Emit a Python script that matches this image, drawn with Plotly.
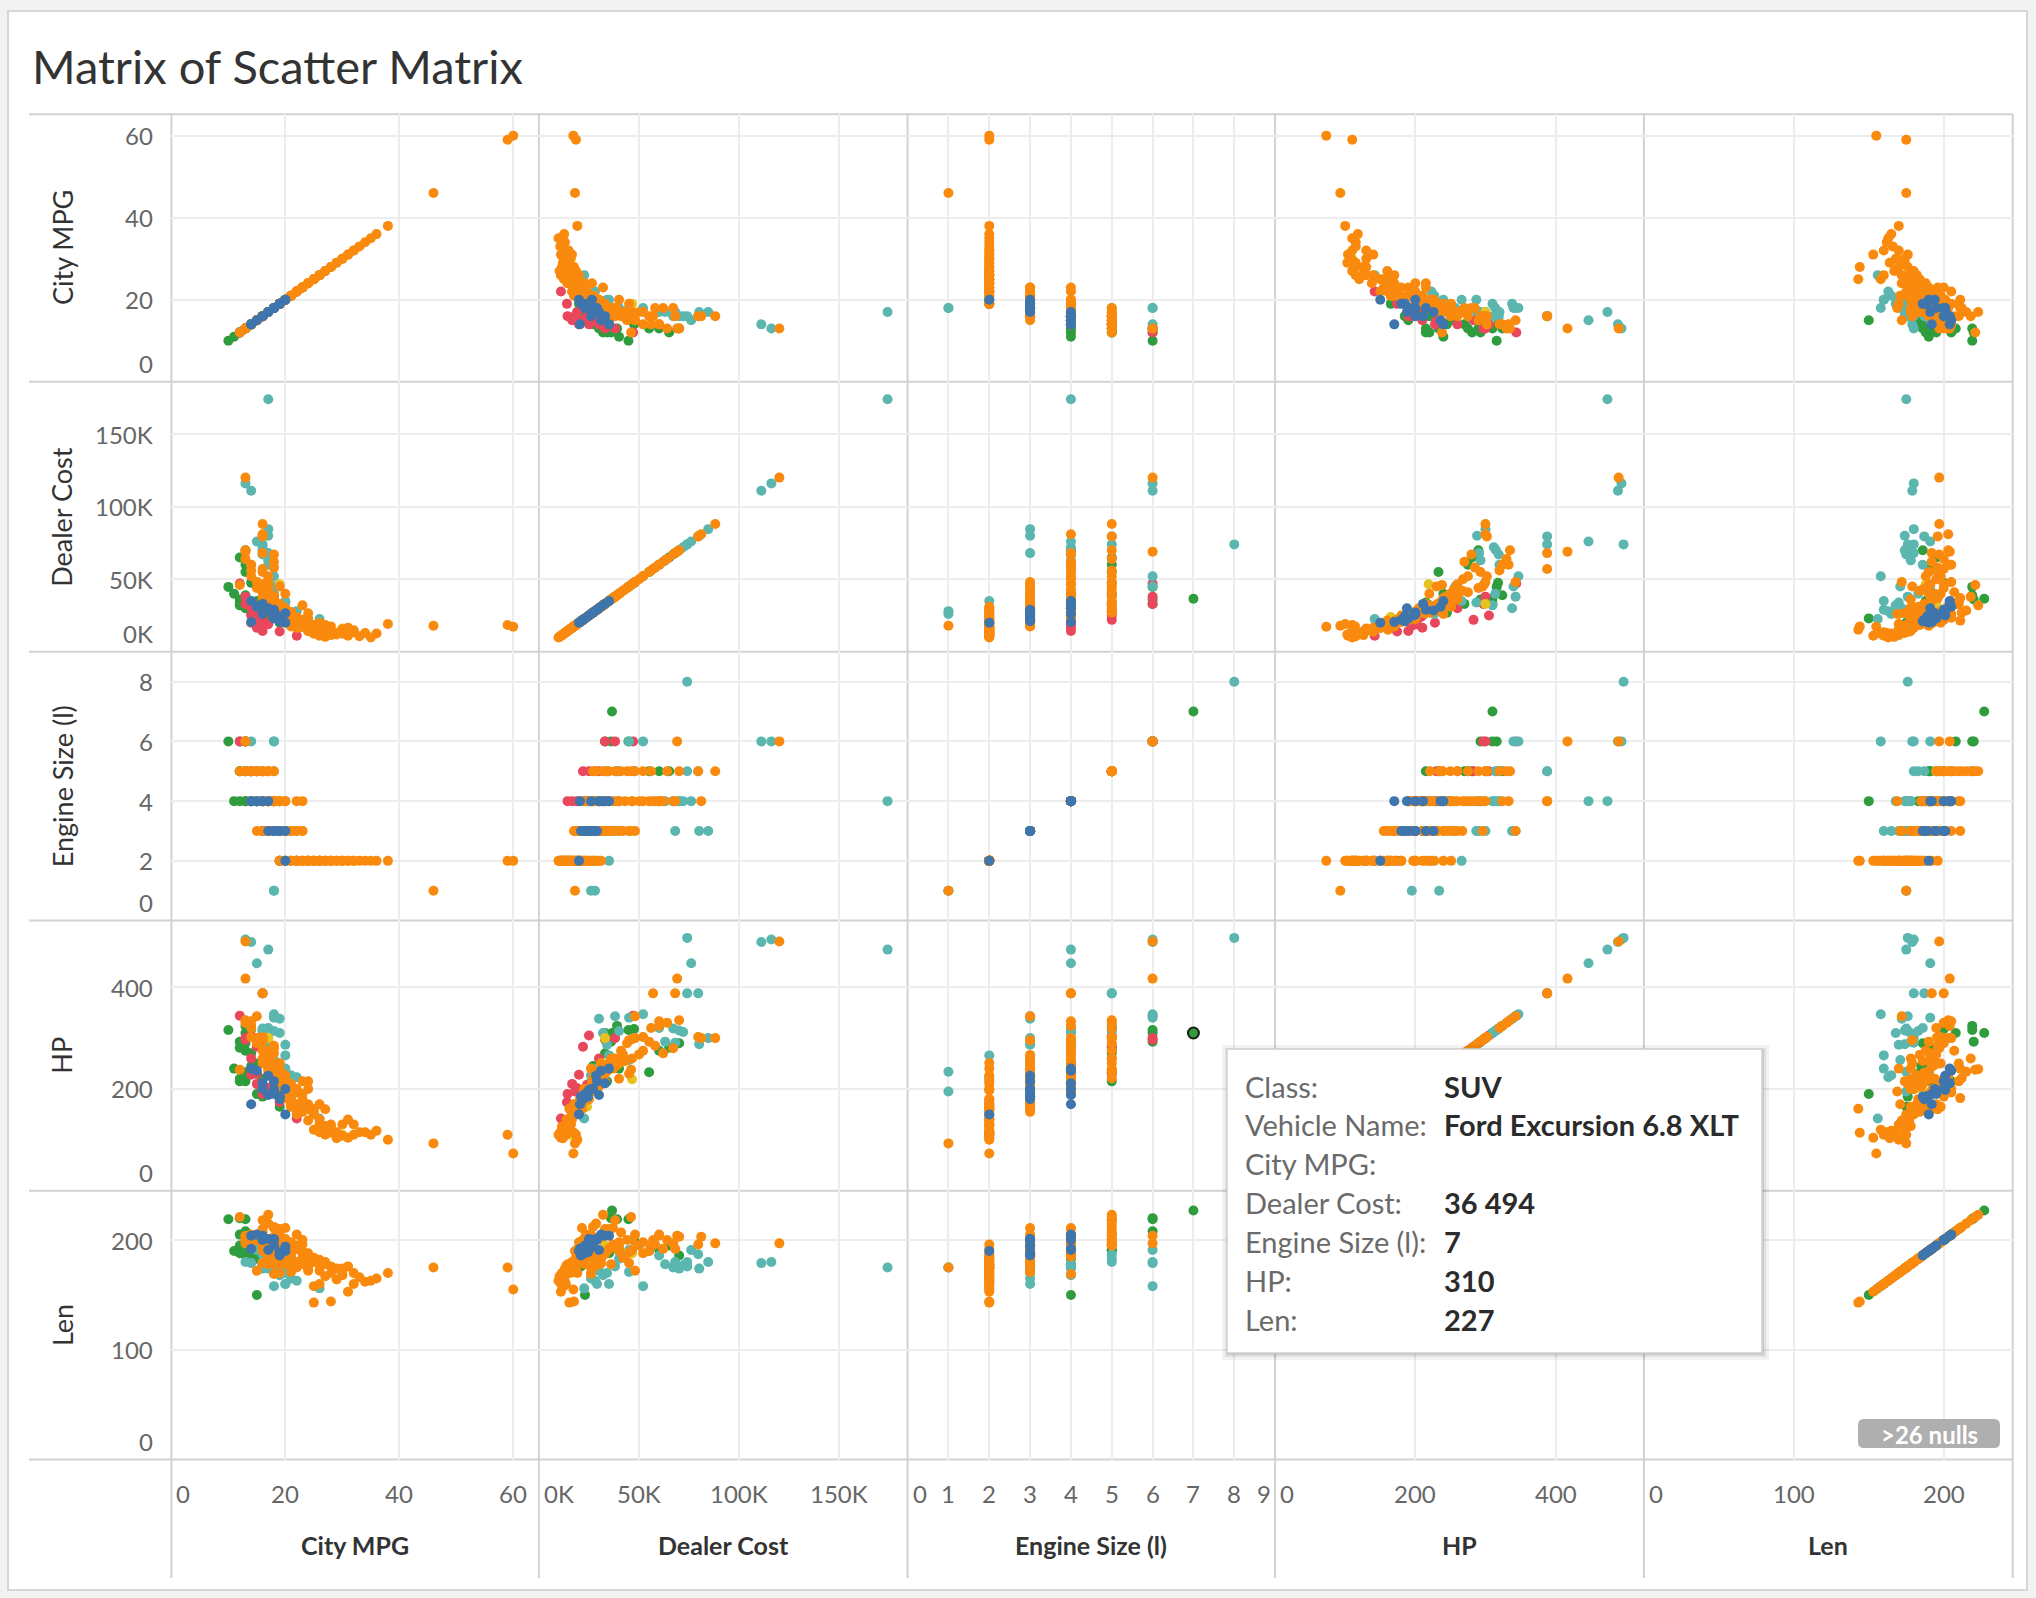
import plotly.graph_objects as go

# ---------------- data ----------------
SEDAN_MPG = [60, 59, 46, 38, 36, 35, 33, 32, 32, 31,
             30, 29, 29, 28, 28, 27, 27, 26, 26, 25,
             28, 25, 25, 24, 24, 24, 23, 23, 22, 22,
             21, 21, 20, 20, 19, 19, 22, 23,
             23, 22, 22, 21, 21, 21, 20, 20, 20, 19, 19, 19,
             19, 18, 18, 18, 18, 17, 17, 17, 16, 15, 20, 21,
             23, 22, 20, 19, 19, 18, 18, 18, 18, 17, 17, 17,
             17, 17, 18, 18, 16, 16, 16, 16, 16, 16, 14, 14, 19, 20, 18,
             18, 17, 17, 16, 16, 16, 15, 15, 14, 14, 13, 13, 16, 12,
             13, 13,
             18, 19, 20, 24, 26, 27, 30, 34, 31, 25, 26, 24, 23]
SEDAN_COST = [17200, 18500, 18000, 19200, 12600, 9800, 10700, 14800, 13500, 11000,
              12500, 13000, 12000, 11500, 15000, 14500, 10300, 13800, 16000, 15200,
              17500, 16500, 18500, 14200, 19500, 21000, 17000, 20500, 22500, 16500,
              25000, 27500, 28500, 30000, 26000, 31000, 24000, 21500,
              18000, 19500, 21000, 22500, 20000, 24000, 23000, 25500, 27000, 26000, 29000, 28000,
              31000, 33000, 30500, 35000, 37000, 36000, 40000, 42000, 45000, 48000, 21500, 17500,
              22000, 23500, 25000, 27000, 29000, 31500, 34000, 37000, 38500, 40000, 43000, 46500,
              50000, 52000, 62000, 67000, 55000, 46500, 57000, 68000, 81000, 88000, 60000, 60000, 33000, 30000, 26000,
              27000, 28500, 32000, 35000, 38000, 41000, 44000, 48000, 52000, 56000, 64000, 70000, 79500, 46000,
              120000, 69000,
              58000, 45000, 40000, 23000, 20000, 18500, 15500, 13000, 16500, 12500, 11000, 26500, 32000]
SEDAN_ENGINE = [2, 2, 1, 2, 2, 2, 2, 2, 2, 2,
                2, 2, 2, 2, 2, 2, 2, 2, 2, 2,
                2, 2, 2, 2, 2, 2, 2, 2, 2, 2,
                2, 2, 2, 2, 2, 2, 2, 2,
                3, 3, 3, 3, 3, 3, 3, 3, 3, 3, 3, 3,
                3, 3, 3, 3, 3, 3, 3, 3, 3, 3, 3, 3,
                4, 4, 4, 4, 4, 4, 4, 4, 4, 4, 4, 4,
                4, 4, 4, 4, 4, 4, 4, 4, 4, 5, 4, 4, 4, 4, 4,
                5, 5, 5, 5, 5, 5, 5, 5, 5, 5, 5, 5, 5, 5,
                6, 6,
                4, 3, 3, 2, 2, 2, 2, 2, 2, 2, 2, 2, 3]
SEDAN_HP = [73, 110, 93, 100, 118, 110, 115, 130, 110, 104,
            108, 115, 103, 126, 130, 127, 110, 140, 130, 161,
            114, 150, 155, 138, 160, 170, 165, 180, 200, 150,
            180, 210, 227, 220, 240, 251, 197, 160,
            155, 160, 170, 175, 165, 190, 185, 200, 210, 200, 220, 215,
            225, 232, 240, 245, 250, 260, 255, 267, 296, 343, 182, 170,
            190, 193, 200, 210, 220, 225, 235, 240, 245, 250, 255, 260,
            268, 275, 270, 280, 293, 298, 388, 388, 300, 300, 324, 333, 215, 205, 195,
            221, 234, 239, 250, 260, 275, 290, 300, 302, 320, 330, 335, 302, 238,
            490, 417,
            285, 230, 220, 200, 170, 160, 130, 115, 140, 120, 115, 215, 215]
SEDAN_LEN = [155, 175, 175, 170, 165, 163, 166, 170, 160, 153,
             168, 174, 164, 170, 176, 178, 167, 177, 172, 143,
             144, 180, 184, 172, 186, 188, 178, 183, 180, 175,
             185, 176, 182, 178, 170, 179, 192, 196,
             190, 192, 195, 188, 198, 190, 200, 193, 186, 205, 191, 180,
             183, 187, 178, 192, 196, 178, 190, 184, 179, 172, 211, 171,
             200, 205, 201, 196, 200, 203, 190, 211, 193, 198, 186, 191,
             195, 188, 192, 197, 190, 200, 200, 192, 203, 197, 204, 205, 210, 185, 169,
             212, 215, 223, 210, 218, 207, 200, 205, 198, 195, 200, 203, 196, 221,
             197, 204,
             196, 189, 194, 178, 182, 180, 174, 162, 176, 158, 160, 174, 188]

SPORTS_MPG = [17, None, 14, 13, 15, 16, 16, 17, 17, 16, 16, 16, 17, 17, 18,
              18, 18, 19, 18, 22, 20, 18, 18, 26, 20, 21, 18, 19, 17, 20]
SPORTS_COST = [174000, 74000, 111000, 116000, 76000, 79500, 74000, 84500, 80000, 72000,
               70000, 67000, 68000, 63000, 52000, 45000, 38000, 30000, 45000, 28000,
               35000, 26000, 28000, 22600, 34000, 26000, 40000, 32000, 60000, 29000]
SPORTS_ENGINE = [4, 8, 6, 6, 4, 5, 5, 3, 3, 4, 4, 4, 3, 4, 6,
                 6, 3, 3, 3, 2, 2, 1, 1, 2, 3, 3, 5, 4, 4, 3]
SPORTS_HP = [474, 497, 489, 494, 447, 388, 388, 300, 288, 312, 315, 319, 291, 293, 347,
             340, 343, 338, 257, 223, 266, 195, 234, 142, 287, 227, 314, 310, 320, 240]
SPORTS_LEN = [175, 176, 179, 180, 191, 187, 180, 180, 174, 177, 174, 175, 180, 178, 158,
              191, 176, 172, 171, 163, 160, 175, 175, 156, 170, 165, 183, 168, 186, 160]

SUV_MPG = [None, 10, 12, 13, 12, 13, 13, 14, 13, 12, 11, 13, 12,
           14, 15, 16, 15, 14, 16, 17, 18, 19, 13, 15, 16]
SUV_COST = [36494, 44700, 36000, 33000, 65000, 70000, 55000, 47500, 39000, 34000, 40000, 30000, 32000,
            27000, 23000, 25000, 28000, 33000, 21000, 22500, 26000, 20000, 60000, 35000, 31000]
SUV_ENGINE = [7, 6, 6, 6, 5, 4, 5, 5, 5, 5, 4, 4, 4,
              4, 4, 4, 4, 5, 3, 3, 3, 2, 5, 4, 3]
SUV_HP = [310, 316, 293, 310, 281, 290, 233, 318, 324, 215, 240, 215, 220,
          245, 190, 210, 230, 270, 185, 200, 210, 165, 275, 250, 220]
SUV_LEN = [227, 219, 220, 208, 195, 186, 190, 200, 219, 205, 190, 190, 188,
           185, 150, 178, 183, 191, 176, 180, 184, 175, 191, 188, 185]

PICKUP_MPG = [22, 19, 16, 15, 14, 15, 14, 13, 13, 12, 15, 16, 17, 16, 14]
PICKUP_COST = [11000, 14000, 14300, 16600, 20000, 22000, 25000, 38000, 33000, 47000,
               28000, 24000, 19000, 18000, 30000]
PICKUP_ENGINE = [2, 2, 4, 4, 4, 5, 5, 6, 6, 6, 5, 4, 4, 3, 5]
PICKUP_HP = [142, 174, 190, 210, 228, 283, 305, 300, 297, 344, 230, 208, 202, 195, 260]
PICKUP_LEN = [None] * 15  # no length recorded for this class (not drawn in Len panes)

MINIVAN_MPG = [20, 19, 19, 18, 18, 17, 18, 17, 16, 16, 15, 14, 19, 18, 20, 14]
MINIVAN_COST = [20000, 22000, 24500, 25000, 27000, 28500, 23000, 30000, 26000, 33000,
                31000, 35000, 21000, 29000, 26500, 20500]
MINIVAN_ENGINE = [2, 3, 3, 3, 3, 3, 3, 4, 4, 4, 4, 4, 3, 3, 3, 4]
MINIVAN_HP = [150, 180, 185, 198, 200, 226, 190, 188, 200, 211, 236, 240, 185, 215, 200, 170]
MINIVAN_LEN = [190, 187, 189, 201, 200, 201, 195, 191, 200, 204, 205, 204, 186, 200, 194, 192]

WAGON_MPG = [30, 19, 17, 21, 20]
WAGON_COST = [16000, 46500, 33000, 24000, 28000]
WAGON_ENGINE = [2, 3, 5, 2, 3]
WAGON_HP = [110, 219, 300, 165, 200]
WAGON_LEN = [170, 188, 195, 182, 185]

# highlighted record (tooltip)
HL_CLASS = "SUV"
HL_NAME = "Ford Excursion 6.8 XLT"
HL_VALUES = [None, 36494, 7, 310, 227]
HL_COST_TEXT = "36 494"
NULLS_TEXT = ">26 nulls"

VARS = ["City MPG", "Dealer Cost", "Engine Size (l)", "HP", "Len"]
X_RANGES = [[0, 64.5], [0, 184000], [0, 9], [0, 526], [0, 246]]
Y_RANGES = [[0, 65.2], [0, 186000], [0, 9], [0, 531], [0, 245]]
X_GRID = [[20, 40, 60], [50000, 100000, 150000], [1, 2, 3, 4, 5, 6, 7, 8], [200, 400], [100, 200]]
Y_GRID = [[20, 40, 60], [50000, 100000, 150000], [2, 4, 6, 8], [200, 400], [100, 200]]
X_TICKS = [[0, 20, 40, 60], [0, 50000, 100000, 150000], [0, 1, 2, 3, 4, 5, 6, 7, 8, 9], [0, 200, 400], [0, 100, 200]]
X_TICK_TEXT = [["0", "20", "40", "60"], ["0K", "50K", "100K", "150K"],
               ["0", "1", "2", "3", "4", "5", "6", "7", "8", "9"], ["0", "200", "400"], ["0", "100", "200"]]
Y_TICKS = [[0, 20, 40, 60], [0, 50000, 100000, 150000], [0, 2, 4, 6, 8], [0, 200, 400], [0, 100, 200]]
Y_TICK_TEXT = [["0", "20", "40", "60"], ["0K", "50K", "100K", "150K"],
               ["0", "2", "4", "6", "8"], ["0", "200", "400"], ["0", "100", "200"]]

CLASS_ORDER = ["SUV", "Pickup", "Sports Car", "Wagon", "Sedan", "Minivan"]
CLASS_DATA = {
    "Sedan": [SEDAN_MPG, SEDAN_COST, SEDAN_ENGINE, SEDAN_HP, SEDAN_LEN],
    "Sports Car": [SPORTS_MPG, SPORTS_COST, SPORTS_ENGINE, SPORTS_HP, SPORTS_LEN],
    "SUV": [SUV_MPG, SUV_COST, SUV_ENGINE, SUV_HP, SUV_LEN],
    "Pickup": [PICKUP_MPG, PICKUP_COST, PICKUP_ENGINE, PICKUP_HP, PICKUP_LEN],
    "Minivan": [MINIVAN_MPG, MINIVAN_COST, MINIVAN_ENGINE, MINIVAN_HP, MINIVAN_LEN],
    "Wagon": [WAGON_MPG, WAGON_COST, WAGON_ENGINE, WAGON_HP, WAGON_LEN],
}
COLORS = {
    "Sedan": "#F98A0E",
    "Sports Car": "#5CB6B0",
    "SUV": "#2F9D3E",
    "Pickup": "#E8475C",
    "Minivan": "#3E75AC",
    "Wagon": "#E6C31E",
}

# ---------------- geometry ----------------
W, H = 2036, 1598
COL_EDGES = [171.4, 538.9, 907.6, 1275.1, 1643.9, 2012.7]
ROW_EDGES = [114.3, 381.8, 651.8, 920.6, 1190.7, 1459.5]
FONT = "Lato, 'Open Sans', sans-serif"
GRID = "#EDEDED"
SEP = "#D2D2D2"


def fx(px):
    return px / W


def fy(py):
    return 1 - py / H


def sfx(k):
    return "" if k == 1 else str(k)


fig = go.Figure()
layout = dict(
    width=W, height=H, margin=dict(l=0, r=0, t=0, b=0),
    paper_bgcolor="#F2F2F2", plot_bgcolor="rgba(0,0,0,0)",
    showlegend=False, font=dict(family=FONT, color="#555"),
)

for r in range(5):
    for c in range(5):
        k = r * 5 + c + 1
        s = sfx(k)
        layout["xaxis" + s] = dict(
            domain=[fx(COL_EDGES[c]), fx(COL_EDGES[c + 1])], range=X_RANGES[c],
            anchor="y" + s, tickvals=X_GRID[c], showticklabels=False, ticks="",
            showgrid=True, gridcolor=GRID, gridwidth=1.5, zeroline=False,
            showline=False, fixedrange=True)
        layout["yaxis" + s] = dict(
            domain=[fy(ROW_EDGES[r + 1]), fy(ROW_EDGES[r])], range=Y_RANGES[r],
            anchor="x" + s, tickvals=Y_GRID[r], showticklabels=False, ticks="",
            showgrid=True, gridcolor=GRID, gridwidth=1.5, zeroline=False,
            showline=False, fixedrange=True)

for cls in CLASS_ORDER:
    cols = CLASS_DATA[cls]
    for r in range(5):
        for c in range(5):
            k = r * 5 + c + 1
            s = sfx(k)
            fig.add_trace(go.Scatter(
                x=cols[c], y=cols[r], xaxis="x" + s, yaxis="y" + s,
                mode="markers", hoverinfo="skip",
                marker=dict(size=10, color=COLORS[cls], line=dict(width=0))))

# highlighted mark (Engine Size vs HP pane)
hl_r, hl_c = 3, 2
k = hl_r * 5 + hl_c + 1
fig.add_trace(go.Scatter(
    x=[HL_VALUES[hl_c]], y=[HL_VALUES[hl_r]], xaxis="x" + sfx(k), yaxis="y" + sfx(k),
    mode="markers", hoverinfo="skip",
    marker=dict(size=11, color=COLORS[HL_CLASS], line=dict(width=2, color="#1A1A1A"))))

shapes = []
# white dashboard card with border
shapes.append(dict(type="rect", xref="paper", yref="paper", layer="below",
                   x0=fx(8), x1=fx(2027), y0=fy(1590), y1=fy(11),
                   fillcolor="white", line=dict(color="#D6D6D6", width=2)))
for py in ROW_EDGES:
    shapes.append(dict(type="line", xref="paper", yref="paper", layer="below",
                       x0=fx(29), x1=fx(COL_EDGES[-1]), y0=fy(py), y1=fy(py),
                       line=dict(color=SEP, width=2)))
for px in COL_EDGES:
    shapes.append(dict(type="line", xref="paper", yref="paper", layer="below",
                       x0=fx(px), x1=fx(px), y0=fy(ROW_EDGES[0]), y1=fy(1578),
                       line=dict(color=SEP, width=2)))

# tooltip box with soft shadow
TT = (1227, 1049, 1762, 1353)
for off, alpha in [(7, 0.05), (4, 0.07), (2, 0.09)]:
    shapes.append(dict(type="rect", xref="paper", yref="paper", layer="above",
                       x0=fx(TT[0] - off + 2), x1=fx(TT[2] + off), y0=fy(TT[3] + off), y1=fy(TT[1] - off + 3),
                       fillcolor="rgba(0,0,0,%s)" % alpha, line=dict(width=0)))
shapes.append(dict(type="rect", xref="paper", yref="paper", layer="above",
                   x0=fx(TT[0]), x1=fx(TT[2]), y0=fy(TT[3]), y1=fy(TT[1]),
                   fillcolor="white", line=dict(color="#CFCFCF", width=1.5)))


def rounded(x0, y0, x1, y1, rad):
    rx, ry = rad / W, rad / H
    X0, X1, Y0, Y1 = fx(x0), fx(x1), fy(y1), fy(y0)
    return (f"M {X0+rx},{Y1} L {X1-rx},{Y1} Q {X1},{Y1} {X1},{Y1-ry} "
            f"L {X1},{Y0+ry} Q {X1},{Y0} {X1-rx},{Y0} L {X0+rx},{Y0} "
            f"Q {X0},{Y0} {X0},{Y0+ry} L {X0},{Y1-ry} Q {X0},{Y1} {X0+rx},{Y1} Z")


shapes.append(dict(type="path", xref="paper", yref="paper", layer="above",
                   path=rounded(1858, 1419, 2000, 1448, 6),
                   fillcolor="#AFAFAF", line=dict(width=0)))
layout["shapes"] = shapes

ann = []
# title
ann.append(dict(text="Matrix of Scatter Matrix", xref="paper", yref="paper",
                x=fx(30), y=fy(66), xanchor="left", yanchor="middle", showarrow=False,
                font=dict(size=47, color="#333333", family=FONT)))
# y axis titles
for r in range(5):
    ann.append(dict(text=VARS[r], xref="paper", yref="paper", textangle=-90,
                    x=fx(62), y=fy((ROW_EDGES[r] + ROW_EDGES[r + 1]) / 2),
                    xanchor="center", yanchor="middle", showarrow=False,
                    font=dict(size=27, color="#333333", family=FONT)))
# x axis titles
for c in range(5):
    ann.append(dict(text="<b>" + VARS[c] + "</b>", xref="paper", yref="paper",
                    x=fx((COL_EDGES[c] + COL_EDGES[c + 1]) / 2), y=fy(1545),
                    xanchor="center", yanchor="middle", showarrow=False,
                    font=dict(size=25, color="#333333", family=FONT)))
# y tick labels (first column)
for r in range(5):
    k = r * 5 + 1
    for v, t in zip(Y_TICKS[r], Y_TICK_TEXT[r]):
        edge = v == Y_RANGES[r][0]
        ann.append(dict(text=t, xref="paper", yref="y" + sfx(k), x=fx(155), y=v,
                        xanchor="right", yanchor="bottom" if edge else "middle",
                        yshift=2 if edge else 0, showarrow=False,
                        font=dict(size=24, color="#666666", family=FONT)))
# x tick labels (bottom row)
for c in range(5):
    k = 20 + c + 1
    for v, t in zip(X_TICKS[c], X_TICK_TEXT[c]):
        if v == X_RANGES[c][0]:
            xa, xs = "left", 3
        elif v >= X_RANGES[c][1] - 1e-9:
            xa, xs = "right", -2
        else:
            xa, xs = "center", 0
        ann.append(dict(text=t, xref="x" + sfx(k), yref="paper", x=v, y=fy(1493),
                        xanchor=xa, xshift=xs, yanchor="middle", showarrow=False,
                        font=dict(size=24, color="#666666", family=FONT)))
# tooltip text
TT_LABELS = ["Class:", "Vehicle Name:", "City MPG:", "Dealer Cost:", "Engine Size (l):", "HP:", "Len:"]
TT_VALUES = [HL_CLASS, HL_NAME, "", HL_COST_TEXT, str(HL_VALUES[2]), str(HL_VALUES[3]), str(HL_VALUES[4])]
TT_ROWS = [1086, 1124, 1163, 1202, 1241, 1280, 1319]
for lab, val, py in zip(TT_LABELS, TT_VALUES, TT_ROWS):
    ann.append(dict(text=lab, xref="paper", yref="paper", x=fx(1243), y=fy(py),
                    xanchor="left", yanchor="middle", showarrow=False,
                    font=dict(size=29, color="#6A6A6A", family=FONT)))
    if val:
        ann.append(dict(text="<b>" + val + "</b>", xref="paper", yref="paper", x=fx(1442), y=fy(py),
                        xanchor="left", yanchor="middle", showarrow=False,
                        font=dict(size=29, color="#2B2B2B", family=FONT)))
# nulls badge
ann.append(dict(text="<b>" + NULLS_TEXT + "</b>", xref="paper", yref="paper", x=fx(1929), y=fy(1434),
                xanchor="center", yanchor="middle", showarrow=False,
                font=dict(size=24, color="white", family=FONT)))
layout["annotations"] = ann

fig.update_layout(**layout)
fig.write_html("out.html")
